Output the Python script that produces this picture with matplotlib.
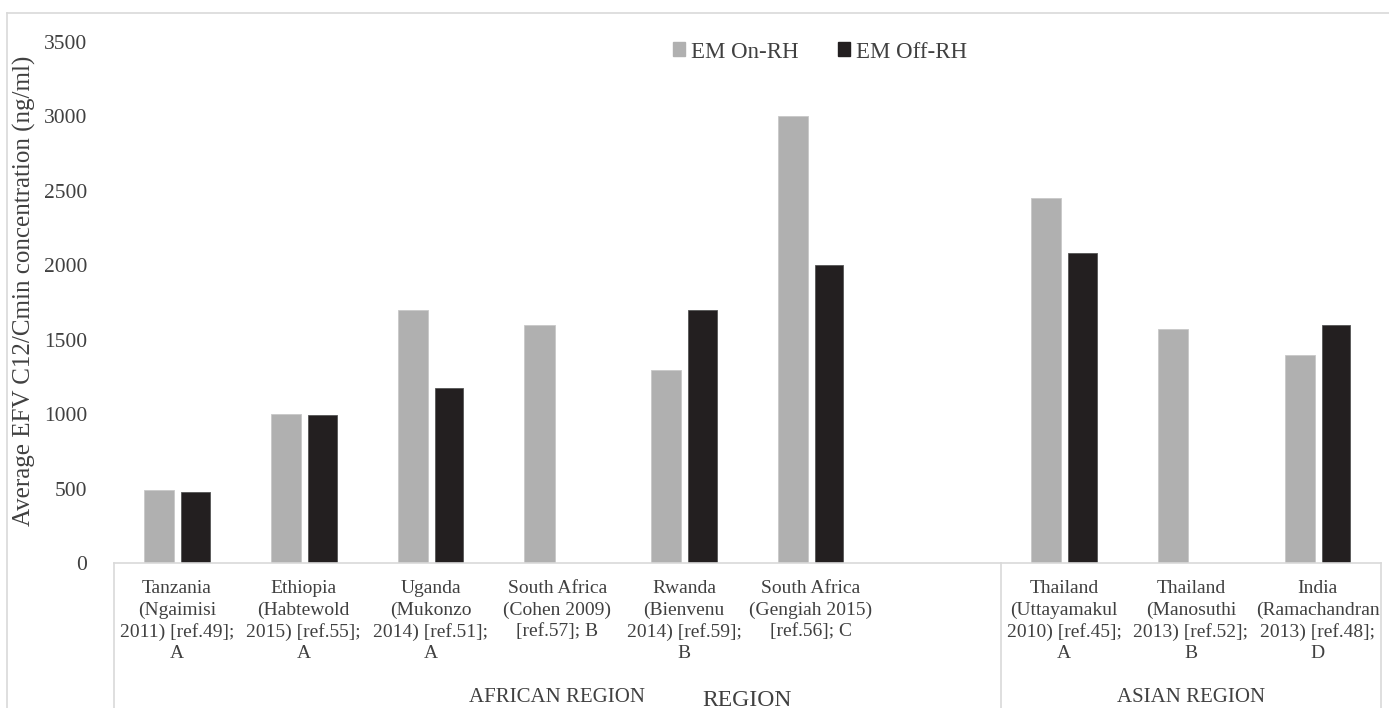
import numpy as np
import matplotlib
matplotlib.use("Agg")
import matplotlib.pyplot as plt
from matplotlib.transforms import blended_transform_factory
from matplotlib.patches import Patch
from matplotlib.lines import Line2D

# Data (one empty slot separates the two regions)
labels = [
    "Tanzania\n(Ngaimisi\n2011) [ref.49];\nA",
    "Ethiopia\n(Habtewold\n2015) [ref.55];\nA",
    "Uganda\n(Mukonzo\n2014) [ref.51];\nA",
    "South Africa\n(Cohen 2009)\n[ref.57]; B",
    "Rwanda\n(Bienvenu\n2014) [ref.59];\nB",
    "South Africa\n(Gengiah 2015)\n[ref.56]; C",
    "",
    "Thailand\n(Uttayamakul\n2010) [ref.45];\nA",
    "Thailand\n(Manosuthi\n2013) [ref.52];\nB",
    "India\n(Ramachandran\n2013) [ref.48];\nD",
]
on_rh = [495, 1000, 1700, 1600, 1300, 3000, np.nan, 2450, 1575, 1400]
off_rh = [480, 997, 1175, np.nan, 1700, 2000, np.nan, 2080, np.nan, 1600]
regions = ["AFRICAN REGION", "ASIAN REGION"]
region_slots = [(0, 6), (7, 9)]
yticks = [0, 500, 1000, 1500, 2000, 2500, 3000, 3500]

plt.rcParams['font.family'] = ['Liberation Serif', 'DejaVu Serif']
txt = '#404040'
line_c = '#d9d9d9'
gray = '#b0b0b0'
dark = '#231f20'

W, H = 1389, 708
fig = plt.figure(figsize=(W / 100, H / 100), dpi=100)
ax = fig.add_axes([113.7 / W, 1 - 563.3 / H, (1381 - 113.7) / W, (563.3 - 41.7) / H])

x = np.arange(len(labels))
ax.bar(x - 0.14, on_rh, width=0.237, color=gray, edgecolor='#c8c8c8', linewidth=0.6, label='EM On-RH')
ax.bar(x + 0.145, off_rh, width=0.227, color=dark, edgecolor='#555555', linewidth=0.6, label='EM Off-RH')

ax.set_xlim(-0.5, len(labels) - 0.5)
ax.set_ylim(0, 3500)
ax.set_yticks(yticks)
ax.tick_params(axis='y', length=0, pad=19, labelsize=15.5, labelcolor=txt)
ax.set_xticks([])
for s in ['top', 'right', 'left']:
    ax.spines[s].set_visible(False)
ax.spines['bottom'].set_color(line_c)
ax.spines['bottom'].set_linewidth(1.2)

# category labels (multi-level axis)
tr = blended_transform_factory(ax.transData, fig.transFigure)
for i, lab in enumerate(labels):
    ax.text(i, 1 - 580 / H, lab, transform=tr, ha='center', va='top',
            fontsize=14, color=txt, linespacing=1.33)
for name, (a, b) in zip(regions, region_slots):
    ax.text((a + b) / 2, 1 - 697 / H, name, transform=tr, ha='center', va='center',
            fontsize=15, color=txt)
for xv in [-0.5, 6.5, 9.5]:
    ax.add_line(Line2D([xv, xv], [1 - 563.3 / H, 0], transform=tr, color=line_c,
                       linewidth=1.2, clip_on=False))
fig.text((113.7 + 1381) / 2 / W, 1 - 700 / H, "REGION", ha='center', va='center',
         fontsize=17, color=txt)

# y-axis title
fig.text(24 / W, 1 - 56 / H, "Average EFV C12/Cmin concentration (ng/ml)", rotation=90,
         ha='center', va='top', fontsize=18, color=txt)

# legend
handles = [Patch(facecolor=gray, edgecolor=gray), Patch(facecolor=dark, edgecolor=dark)]
leg = fig.legend(handles, ['EM On-RH', 'EM Off-RH'], loc='center', ncol=2,
                 bbox_to_anchor=(820 / W, 1 - 52 / H), frameon=False, fontsize=16.5,
                 handlelength=0.55, handleheight=0.55, handletextpad=0.25, columnspacing=1.7)
for t in leg.get_texts():
    t.set_color(txt)

# outer chart border (top and left visible)
fig.add_artist(Line2D([7.5 / W, 1], [1 - 13.3 / H] * 2, transform=fig.transFigure,
                      color=line_c, linewidth=1.2))
fig.add_artist(Line2D([7.5 / W] * 2, [0, 1 - 13.3 / H], transform=fig.transFigure,
                      color=line_c, linewidth=1.2))

fig.savefig("out.png", dpi=100, facecolor='white')
